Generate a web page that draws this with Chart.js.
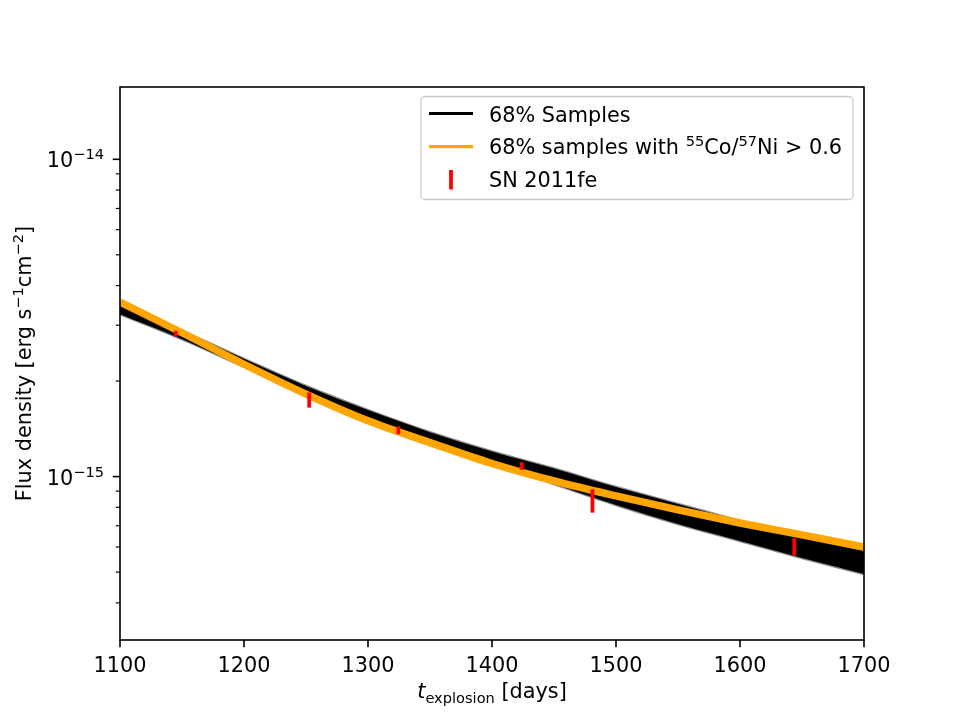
<!DOCTYPE html>
<html>
<head>
<meta charset="UTF-8">
<title>SN 2011fe flux density</title>
<style>
  body { margin: 0; background: #fff; }
</style>
</head>
<body>
<canvas id="fluxChart" width="960" height="720"></canvas>

<script src="https://cdn.jsdelivr.net/npm/chart.js"></script>
<script>
// model curves, sampled every 50 days
const days = [1100, 1150, 1200, 1250, 1300, 1350, 1400, 1450, 1500, 1550, 1600, 1650, 1700];
// orange: 68% samples with 55Co/57Ni > 0.6
const coNiFlux = [3.55e-15, 2.84e-15, 2.26e-15, 1.82e-15, 1.50e-15, 1.28e-15, 1.10e-15, 9.69e-16, 8.69e-16, 7.85e-16, 7.14e-16, 6.55e-16, 6.00e-16];
// black: 68% samples (upper / lower edge of the band)
const samplesUpper = [3.50e-15, 2.88e-15, 2.35e-15, 1.93e-15, 1.62e-15, 1.38e-15, 1.20e-15, 1.06e-15, 9.27e-16, 8.20e-16, 7.25e-16, 6.45e-16, 5.83e-16];
const samplesLower = [3.25e-15, 2.71e-15, 2.22e-15, 1.83e-15, 1.53e-15, 1.30e-15, 1.11e-15, 9.48e-16, 8.14e-16, 7.09e-16, 6.27e-16, 5.54e-16, 4.93e-16];

// SN 2011fe points (error bar top / bottom)
const snDays = [1145, 1252.6, 1324.5, 1424, 1481, 1643.8];
const snHigh = [2.88e-15, 1.84e-15, 1.44e-15, 1.11e-15, 9.12e-16, 6.39e-16];
const snLow  = [2.76e-15, 1.65e-15, 1.36e-15, 1.05e-15, 7.70e-16, 5.63e-16];

// axes
const xTicks = [1100, 1200, 1300, 1400, 1500, 1600, 1700];
const yTicks = [4e-16, 5e-16, 6e-16, 7e-16, 8e-16, 9e-16,
                1e-15, 2e-15, 3e-15, 4e-15, 5e-15, 6e-15, 7e-15, 8e-15, 9e-15, 1e-14];
const yMajor = [1e-15, 1e-14];
const yMajorExp = ['\u221215', '\u221214'];
const yMin = 3.055e-16, yMax = 1.69e-14;

const FS = 20.8;   // 10pt at 150 dpi
const SS = 14.6;   // script size
const FAMILY = '"DejaVu Sans"';

function fontFor(kind) {
  if (kind === 'sup' || kind === 'sub') return SS + 'px ' + FAMILY;
  if (kind === 'it') return 'oblique ' + FS + 'px ' + FAMILY;
  return FS + 'px ' + FAMILY;
}

// text with super/subscripts: parts = [[text, kind], ...]
function drawParts(ctx, parts, x, y, align) {
  let total = 0;
  parts.forEach(p => { ctx.font = fontFor(p[1]); total += ctx.measureText(p[0]).width; });
  let cx = align === 'center' ? x - total / 2 : (align === 'right' ? x - total : x);
  ctx.textAlign = 'left';
  ctx.textBaseline = 'alphabetic';
  parts.forEach(p => {
    ctx.font = fontFor(p[1]);
    let dy = 0;
    if (p[1] === 'sup') dy = -8;
    if (p[1] === 'sub') dy = 4.5;
    ctx.fillText(p[0], cx, y + dy);
    cx += ctx.measureText(p[0]).width;
  });
}

const pts = (xs, ys) => xs.map((x, i) => ({x: x, y: ys[i]}));

const decorations = {
  id: 'decorations',
  afterDatasetsDraw(chart) {
    const ctx = chart.ctx, area = chart.chartArea;
    const xs = chart.scales.x, ys = chart.scales.y;
    // error bars
    ctx.save();
    ctx.beginPath();
    ctx.rect(area.left, area.top, area.right - area.left, area.bottom - area.top);
    ctx.clip();
    ctx.strokeStyle = '#ff0000';
    ctx.lineWidth = 3.8;
    snDays.forEach((d, i) => {
      const px = xs.getPixelForValue(d);
      ctx.beginPath();
      ctx.moveTo(px, ys.getPixelForValue(snHigh[i]));
      ctx.lineTo(px, ys.getPixelForValue(snLow[i]));
      ctx.stroke();
    });
    ctx.restore();
  },
  afterDraw(chart) {
    const ctx = chart.ctx, area = chart.chartArea;
    const xs = chart.scales.x, ys = chart.scales.y;
    ctx.save();
    ctx.strokeStyle = '#000';
    ctx.fillStyle = '#000';

    // x ticks
    ctx.lineWidth = 1.6;
    xTicks.forEach(v => {
      const px = xs.getPixelForValue(v);
      ctx.beginPath();
      ctx.moveTo(px, area.bottom);
      ctx.lineTo(px, area.bottom + 7.3);
      ctx.stroke();
    });
    // y ticks (major + minor) and major labels
    yTicks.forEach(v => {
      const py = ys.getPixelForValue(v);
      const k = yMajor.indexOf(v);
      ctx.lineWidth = k >= 0 ? 1.6 : 1.2;
      ctx.beginPath();
      ctx.moveTo(area.left, py);
      ctx.lineTo(area.left - (k >= 0 ? 7.3 : 4.2), py);
      ctx.stroke();
      if (k >= 0) drawParts(ctx, [['10', 'n'], [yMajorExp[k], 'sup']], 104, py + 8, 'right');
    });

    // frame
    ctx.lineWidth = 1.6;
    ctx.strokeRect(area.left, area.top, area.right - area.left, area.bottom - area.top);

    // axis titles
    drawParts(ctx, [['t', 'it'], ['explosion', 'sub'], [' [days]', 'n']], (area.left + area.right) / 2, 698, 'center');
    ctx.save();
    ctx.translate(31, (area.top + area.bottom) / 2);
    ctx.rotate(-Math.PI / 2);
    drawParts(ctx, [['Flux density [erg s', 'n'], ['\u22121', 'sup'], ['cm', 'n'], ['\u22122', 'sup'], [']', 'n']], 0, 0, 'center');
    ctx.restore();

    // legend
    const lx = 421, ly = 96.5, lw = 432, lh = 103;
    ctx.beginPath();
    ctx.roundRect(lx, ly, lw, lh, 4);
    ctx.fillStyle = 'rgba(255,255,255,0.8)';
    ctx.fill();
    ctx.strokeStyle = '#cccccc';
    ctx.lineWidth = 1.3;
    ctx.stroke();

    ctx.lineWidth = 3.2;
    ctx.strokeStyle = '#000';
    ctx.beginPath(); ctx.moveTo(429, 113.5); ctx.lineTo(473, 113.5); ctx.stroke();
    ctx.strokeStyle = '#ffa500';
    ctx.beginPath(); ctx.moveTo(429, 146.7); ctx.lineTo(473, 146.7); ctx.stroke();
    ctx.strokeStyle = '#ff0000';
    ctx.lineWidth = 3.8;
    ctx.beginPath(); ctx.moveTo(451, 170); ctx.lineTo(451, 189.5); ctx.stroke();

    ctx.fillStyle = '#000';
    drawParts(ctx, [['68% Samples', 'n']], 489, 121.5, 'left');
    drawParts(ctx, [['68% samples with ', 'n'], ['55', 'sup'], ['Co/', 'n'], ['57', 'sup'], ['Ni > 0.6', 'n']], 489, 154, 'left');
    drawParts(ctx, [['SN 2011fe', 'n']], 489, 187, 'left');
    ctx.restore();
  }
};

Chart.defaults.font.family = FAMILY;
Chart.defaults.font.size = FS;
Chart.defaults.color = '#000';

const ctx = document.getElementById('fluxChart').getContext('2d');
const fluxChart = new Chart(ctx, {
  type: 'line',
  data: {
    datasets: [
      {
        label: '68% samples with 55Co/57Ni > 0.6',
        data: pts(days, coNiFlux),
        borderColor: '#ffa500',
        borderWidth: 7.5,
        pointRadius: 0,
        fill: false,
        cubicInterpolationMode: 'monotone',
        order: 0
      },
      {
        label: '68% Samples upper',
        data: pts(days, samplesUpper),
        borderColor: 'rgba(0,0,0,0.45)',
        borderWidth: 2.5,
        pointRadius: 0,
        fill: false,
        cubicInterpolationMode: 'monotone',
        order: 2
      },
      {
        label: '68% Samples',
        data: pts(days, samplesLower),
        borderColor: 'rgba(0,0,0,0.45)',
        borderWidth: 2.5,
        backgroundColor: '#000',
        pointRadius: 0,
        fill: '-1',
        cubicInterpolationMode: 'monotone',
        order: 1
      }
    ]
  },
  options: {
    responsive: false,
    animation: false,
    layout: { padding: { top: 87, right: 96, left: 0, bottom: 0 } },
    scales: {
      x: {
        type: 'linear',
        min: 1100,
        max: 1700,
        afterBuildTicks: s => { s.ticks = xTicks.map(v => ({value: v})); },
        afterFit: s => { s.height = 80; },
        grid: { display: false, drawTicks: false },
        border: { display: false },
        ticks: { padding: 14, color: '#000', font: { size: FS }, maxRotation: 0,
                 callback: v => String(v) }
      },
      y: {
        type: 'logarithmic',
        min: yMin,
        max: yMax,
        afterBuildTicks: s => { s.ticks = yTicks.map(v => ({value: v})); },
        afterFit: s => { s.width = 120; },
        grid: { display: false, drawTicks: false },
        border: { display: false },
        ticks: { display: false }
      }
    },
    plugins: {
      legend: { display: false },
      tooltip: { enabled: false }
    }
  },
  plugins: [decorations]
});
</script>
</body>
</html>
